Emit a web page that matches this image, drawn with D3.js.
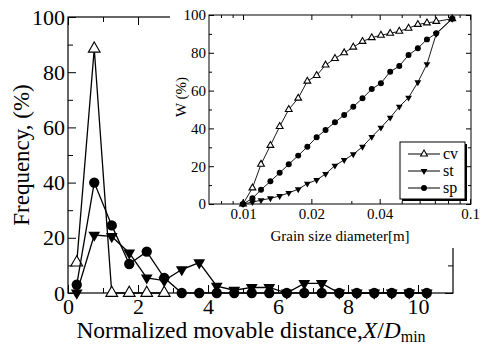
<!DOCTYPE html>
<html>
<head>
<meta charset="utf-8">
<script src="https://cdn.jsdelivr.net/npm/d3@7"></script>
<style>
  body { margin: 0; background: #fff; }
  svg { display: block; }
  svg text { font-family: "Liberation Serif", "DejaVu Serif", "Times New Roman", serif; fill: #000; }
  .axis line { stroke: #000; }
</style>
</head>
<body>
<svg id="chart" width="482" height="347"></svg>
<script>
// Main plot: frequency vs normalized movable distance
const distance = [0.25, 0.75, 1.25, 1.75, 2.25, 2.75, 3.25, 3.75, 4.25, 4.75, 5.25,
                  5.75, 6.25, 6.75, 7.25, 7.75, 8.25, 8.75, 9.25, 9.75, 10.25];
const cvFreq = [11, 88.5, 0, 0, 0, 0];
const stFreq = [0, 21, 20.5, 14.5, 5.5, 4.5, 8.5, 11, 2.5, 1, 2, 2, 0, 3.5, 3.5, 0, 0, 0, 0, 0, 0];
const spFreq = [3, 40, 24.5, 10.5, 15, 5.5, 0, 0, 0, 0, 0, 0, 0, 0, 0, 0, 0, 0, 0, 0, 0];
const mainXTicks = [0, 2, 4, 6, 8, 10];
const mainXMinor = [1, 3, 5, 7, 9];
const mainYTicks = [0, 20, 40, 60, 80, 100];
const mainYMinor = [10, 30, 50, 70, 90];

// Inset: cumulative grain size curves
const grainSize = [0.0100, 0.0110, 0.0120, 0.0132, 0.0145, 0.0159, 0.0175, 0.0192, 0.0211, 0.0231,
                   0.0254, 0.0279, 0.0306, 0.0336, 0.0369, 0.0405, 0.0445, 0.0488, 0.0536, 0.0589,
                   0.0646, 0.0710, 0.0835];
const cvW = [0, 8.5, 21, 31, 41, 50, 56, 65, 68, 73.5, 77, 80, 83, 86, 88, 89.3, 90.3, 91.4, 93,
             95, 95.8, 96.6, 98];
const stW = [0, 1, 2, 3, 4.2, 5.9, 7.8, 10.8, 12.7, 15.9, 20.3, 23.3, 26.3, 30.3, 35.5, 40.4,
             45.7, 51.5, 56.3, 64.4, 74, 90, 98];
const spW = [0, 3, 7.5, 12, 16.5, 21, 25.6, 30.3, 35.3, 39.2, 43.2, 47.1, 51.5, 55.9, 60.8, 63.9,
             70, 73, 78.8, 82.4, 87.1, 90.3, 98];
const insetXTicks = [0.01, 0.02, 0.04, 0.1];
const insetXMinor = [0.008, 0.009, 0.03, 0.05, 0.06, 0.07, 0.08, 0.09];
const insetYTicks = [0, 20, 40, 60, 80, 100];
const insetYMinor = [10, 30, 50, 70, 90];
const seriesNames = ['cv', 'st', 'sp'];

const svg = d3.select('#chart');

// marker helper: open triangle, filled down-triangle, filled circle
function marker(g, kind, size, x, y) {
    if (kind === 'cv') {
        return g.append('path')
            .attr('d', d3.symbol(d3.symbolTriangle, size)())
            .attr('fill', '#fff').attr('stroke', '#000').attr('stroke-width', 1.1)
            .attr('transform', `translate(${x},${y})`);
    }
    if (kind === 'st') {
        return g.append('path')
            .attr('d', d3.symbol(d3.symbolTriangle, size)())
            .attr('fill', '#000')
            .attr('transform', `translate(${x},${y}) rotate(180)`);
    }
    return g.append('path')
        .attr('d', d3.symbol(d3.symbolCircle, size * 1.4)())
        .attr('fill', '#000')
        .attr('transform', `translate(${x},${y})`);
}

function drawSeries(g, xs, ys, kind, x, y, size, width) {
    let pts = ys.map((v, i) => [xs[i], v]);
    g.append('path')
        .datum(pts)
        .attr('fill', 'none')
        .attr('stroke', '#000')
        .attr('stroke-width', width)
        .attr('d', d3.line().x(d => x(d[0])).y(d => y(d[1])));
    for (let p of pts) marker(g, kind, size, x(p[0]), y(p[1]));
}

function addAxis(g, axis, transform, fontSize) {
    let a = g.append('g').attr('class', 'axis').attr('transform', transform).call(axis);
    a.attr('font-family', null);
    a.select('.domain').remove();
    a.selectAll('text').attr('font-size', fontSize);
    a.selectAll('line').attr('stroke-width', 1);
    return a;
}

// ---------- main plot ----------
const x = d3.scaleLinear().domain([0, 11]).range([68, 453]);
const y = d3.scaleLinear().domain([0, 100]).range([293, 17]);

const main = svg.append('g');

addAxis(main, d3.axisBottom(x).tickValues(mainXTicks).tickSizeInner(-8).tickSizeOuter(0).tickPadding(5).tickFormat(d3.format('d')), 'translate(0,293)', 22);
addAxis(main, d3.axisBottom(x).tickValues(mainXMinor).tickSizeInner(-5).tickSizeOuter(0).tickFormat(''), 'translate(0,293)', 22);
addAxis(main, d3.axisTop(x).tickValues(mainXTicks).tickSizeInner(-8).tickSizeOuter(0).tickFormat(''), 'translate(0,17)', 22);
addAxis(main, d3.axisTop(x).tickValues(mainXMinor).tickSizeInner(-5).tickSizeOuter(0).tickFormat(''), 'translate(0,17)', 22);
addAxis(main, d3.axisLeft(y).tickValues(mainYTicks).tickSizeInner(-8).tickSizeOuter(0).tickPadding(3).tickFormat(d3.format('d')), 'translate(68,0)', 22);
addAxis(main, d3.axisLeft(y).tickValues(mainYMinor).tickSizeInner(-5).tickSizeOuter(0).tickFormat(''), 'translate(68,0)', 22);
addAxis(main, d3.axisRight(y).tickValues(mainYTicks).tickSizeInner(-8).tickSizeOuter(0).tickFormat(''), 'translate(453,0)', 22);
addAxis(main, d3.axisRight(y).tickValues(mainYMinor).tickSizeInner(-5).tickSizeOuter(0).tickFormat(''), 'translate(453,0)', 22);

main.append('rect')
    .attr('x', 68).attr('y', 17).attr('width', 453 - 68).attr('height', 293 - 17)
    .attr('fill', 'none').attr('stroke', '#000').attr('stroke-width', 1.2);

drawSeries(main, distance, cvFreq, 'cv', x, y, 60, 1.3);
drawSeries(main, distance, stFreq, 'st', x, y, 60, 1.3);
drawSeries(main, distance, spFreq, 'sp', x, y, 60, 1.3);

main.append('text')
    .attr('transform', 'translate(29,155) rotate(-90)')
    .attr('text-anchor', 'middle')
    .attr('font-size', 23)
    .text('Frequency, (%)');

let xl = main.append('text')
    .attr('x', 251).attr('y', 338)
    .attr('text-anchor', 'middle')
    .attr('font-size', 23.5);
xl.append('tspan').text('Normalized movable distance,');
xl.append('tspan').attr('font-style', 'italic').text('X');
xl.append('tspan').text('/');
xl.append('tspan').attr('font-style', 'italic').text('D');
xl.append('tspan').attr('font-size', 16).attr('dy', 4).text('min');

// ---------- inset ----------
const inset = svg.append('g');
inset.append('rect')
    .attr('x', 170).attr('y', 0).attr('width', 312).attr('height', 248)
    .attr('fill', '#fff');

const ix = d3.scaleLog().domain([0.00708, 0.101]).range([209, 471]);
const iy = d3.scaleLinear().domain([0, 100]).range([204, 15]);

addAxis(inset, d3.axisBottom(ix).tickValues(insetXTicks).tickSizeInner(-5).tickSizeOuter(0).tickPadding(4).tickFormat(d => String(d)), 'translate(0,204)', 15);
addAxis(inset, d3.axisBottom(ix).tickValues(insetXMinor).tickSizeInner(-3).tickSizeOuter(0).tickFormat(''), 'translate(0,204)', 15);
addAxis(inset, d3.axisTop(ix).tickValues(insetXTicks).tickSizeInner(-5).tickSizeOuter(0).tickFormat(''), 'translate(0,15)', 15);
addAxis(inset, d3.axisTop(ix).tickValues(insetXMinor).tickSizeInner(-3).tickSizeOuter(0).tickFormat(''), 'translate(0,15)', 15);
addAxis(inset, d3.axisLeft(iy).tickValues(insetYTicks).tickSizeInner(-5).tickSizeOuter(0).tickPadding(3).tickFormat(d3.format('d')), 'translate(209,0)', 15);
addAxis(inset, d3.axisLeft(iy).tickValues(insetYMinor).tickSizeInner(-3).tickSizeOuter(0).tickFormat(''), 'translate(209,0)', 15);
addAxis(inset, d3.axisRight(iy).tickValues(insetYTicks).tickSizeInner(-5).tickSizeOuter(0).tickFormat(''), 'translate(471,0)', 15);
addAxis(inset, d3.axisRight(iy).tickValues(insetYMinor).tickSizeInner(-3).tickSizeOuter(0).tickFormat(''), 'translate(471,0)', 15);

inset.append('rect')
    .attr('x', 209).attr('y', 15).attr('width', 471 - 209).attr('height', 204 - 15)
    .attr('fill', 'none').attr('stroke', '#000').attr('stroke-width', 1);

drawSeries(inset, grainSize, cvW, 'cv', ix, iy, 20, 0.9);
drawSeries(inset, grainSize, stW, 'st', ix, iy, 20, 0.9);
drawSeries(inset, grainSize, spW, 'sp', ix, iy, 20, 0.9);

inset.append('text')
    .attr('transform', 'translate(186,97) rotate(-90)')
    .attr('text-anchor', 'middle')
    .attr('font-size', 15)
    .text('W (%)');

inset.append('text')
    .attr('x', 340).attr('y', 241)
    .attr('text-anchor', 'middle')
    .attr('font-size', 15)
    .text('Grain size diameter[m]');

// legend with drop shadow
const leg = inset.append('g');
leg.append('rect').attr('x', 402).attr('y', 144).attr('width', 65).attr('height', 57).attr('fill', '#000');
leg.append('rect').attr('x', 400).attr('y', 142).attr('width', 65).attr('height', 57)
    .attr('fill', '#fff').attr('stroke', '#000').attr('stroke-width', 1);
seriesNames.forEach((name, i) => {
    let ly = 154 + i * 17;
    leg.append('line').attr('x1', 408).attr('x2', 440).attr('y1', ly).attr('y2', ly)
        .attr('stroke', '#000').attr('stroke-width', 1);
    marker(leg, name, 20, 424, ly);
    leg.append('text').attr('x', 443).attr('y', ly).attr('dy', '0.32em')
        .attr('font-size', 16).text(name);
});
</script>
</body>
</html>
